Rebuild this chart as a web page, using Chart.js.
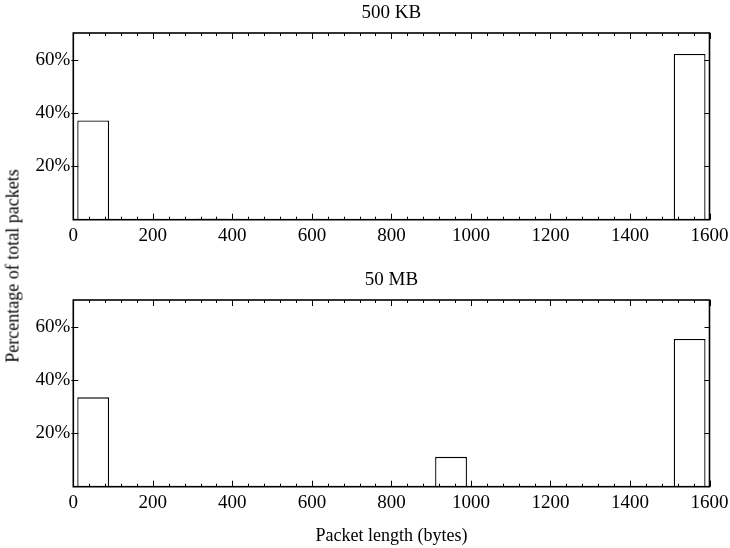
<!DOCTYPE html>
<html>
<head>
<meta charset="utf-8">
<script src="https://cdn.jsdelivr.net/npm/chart.js@4/dist/chart.umd.min.js"></script>
<style>
  html, body { margin: 0; padding: 0; background: #fff; }
  body { width: 730px; height: 548px; position: relative; overflow: hidden; }
  canvas { position: absolute; left: 0; }
  #c1 { top: 0; }
  #c2 { top: 267px; }
  #ylab {
    position: absolute; left: 13px; top: 266px;
    transform: translate(-50%, -50%) rotate(-90deg);
    font-family: "Liberation Serif", "DejaVu Serif", serif; font-size: 18px;
    white-space: nowrap; color: #000;
  }
</style>
</head>
<body>
<canvas id="c1" width="730" height="274"></canvas>
<canvas id="c2" width="730" height="281"></canvas>
<div id="ylab">Percentage of total packets</div>
<script>
// Histogram bins (bytes), 100-byte wide, bar placed at bin centre
const binCenters = [50, 150, 250, 350, 450, 550, 650, 750, 850, 950, 1050, 1150, 1250, 1350, 1450, 1550];
// Percentage of total packets per bin
const pct500KB = [37.2, 0.15, 0, 0.35, 0, 0, 0, 0, 0, 0, 0, 0.15, 0.2, 0, 0, 62.1];
const pct50MB  = [33.5, 0, 0, 0, 0, 0, 0, 0, 0, 11.2, 0, 0, 0, 0, 0, 55.4];
const panelTitles = ['500 KB', '50 MB'];
const xTickLabels = [0, 200, 400, 600, 800, 1000, 1200, 1400, 1600];
const xMinorStep = 40;
const yTickLabels = [20, 40, 60];
const xAxisTitle = 'Packet length (bytes)';

const FONT = '"Liberation Serif", "DejaVu Serif", serif';

const frameTicks = {
  id: 'frameTicks',
  afterDatasetsDraw(chart) {
    const {ctx, chartArea: a, scales: {x, y}} = chart;
    ctx.save();
    ctx.strokeStyle = '#000';
    ctx.lineWidth = 1;
    // x ticks, inward on bottom and top
    for (let v = x.min; v <= x.max + 1e-9; v += xMinorStep) {
      const px = Math.round(x.getPixelForValue(v)) + 0.5;
      const len = xTickLabels.includes(v) ? 6 : 3;
      ctx.beginPath();
      ctx.moveTo(px, a.bottom); ctx.lineTo(px, a.bottom - len);
      ctx.moveTo(px, a.top); ctx.lineTo(px, a.top + len);
      ctx.stroke();
    }
    // y ticks, left and right
    yTickLabels.forEach(v => {
      const py = Math.round(y.getPixelForValue(v)) + 0.5;
      ctx.beginPath();
      ctx.moveTo(a.left - 2, py); ctx.lineTo(a.left + 5, py);
      ctx.moveTo(a.right, py); ctx.lineTo(a.right - 5, py);
      ctx.stroke();
    });
    // frame
    ctx.lineWidth = 1.6;
    ctx.strokeRect(a.left, a.top, a.right - a.left, a.bottom - a.top);
    ctx.restore();
  }
};

function makeChart(id, title, values, withXTitle, canvasH) {
  const plotBottom = 219.7;
  return new Chart(document.getElementById(id), {
    type: 'bar',
    data: {
      datasets: [{
        data: binCenters.map((c, i) => ({x: c, y: values[i]})),
        backgroundColor: '#ffffff',
        borderColor: '#000000',
        borderWidth: 1.3,
        borderSkipped: 'bottom',
        categoryPercentage: 0.8,
        barPercentage: 1.0
      }]
    },
    options: {
      responsive: false,
      animation: false,
      devicePixelRatio: 1,
      layout: { padding: { left: 0, right: 20.5, top: 0, bottom: 0 } },
      plugins: {
        legend: { display: false },
        tooltip: { enabled: false },
        title: {
          display: true,
          text: title,
          fullSize: false,
          color: '#000',
          font: { family: FONT, size: 19, weight: 'normal', lineHeight: 1 },
          padding: { top: 4, bottom: 10 }
        }
      },
      scales: {
        x: {
          type: 'linear',
          offset: false,
          min: 0, max: 1600,
          afterBuildTicks: s => { s.ticks = xTickLabels.map(v => ({value: v})); },
          afterFit: s => { s.height = canvasH - plotBottom; s.paddingLeft = 0; s.paddingRight = 0; },
          grid: { display: false, drawTicks: false, offset: false },
          border: { display: false },
          ticks: {
            color: '#000',
            font: { family: FONT, size: 19 },
            padding: 5,
            maxRotation: 0,
            autoSkip: false,
            callback: v => String(v)
          },
          title: {
            display: withXTitle,
            text: xAxisTitle,
            color: '#000',
            font: { family: FONT, size: 18 },
            padding: { top: 0, bottom: 1.3 }
          }
        },
        y: {
          min: 0, max: 70,
          afterBuildTicks: s => { s.ticks = yTickLabels.map(v => ({value: v})); },
          afterFit: s => { s.width = 73.3; s.paddingTop = 0; s.paddingBottom = 0; },
          grid: { display: false, drawTicks: false },
          border: { display: false },
          ticks: {
            color: '#000',
            font: { family: FONT, size: 19 },
            padding: 3,
            callback: v => v + '%'
          }
        }
      }
    },
    plugins: [frameTicks]
  });
}

makeChart('c1', panelTitles[0], pct500KB, false, 274);
makeChart('c2', panelTitles[1], pct50MB, true, 281);
</script>
</body>
</html>
